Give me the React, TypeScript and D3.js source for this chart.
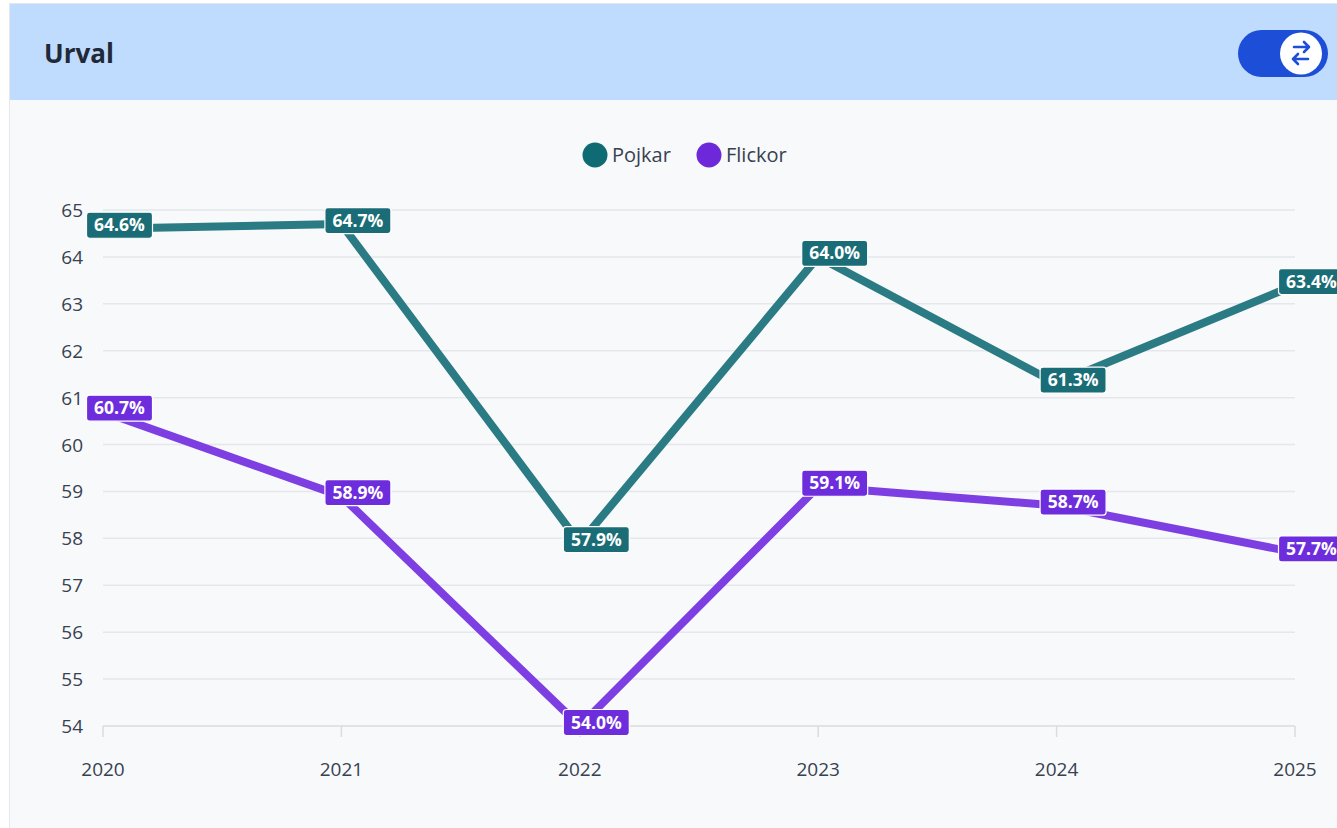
import React from "react";
import * as d3 from "d3";

const years = ["2020", "2021", "2022", "2023", "2024", "2025"];
const pojkar = [64.6, 64.7, 57.9, 64.0, 61.3, 63.4];
const flickor = [60.7, 58.9, 54.0, 59.1, 58.7, 57.7];
const yTicks = [54, 55, 56, 57, 58, 59, 60, 61, 62, 63, 64, 65];
const seriesNames = ["Pojkar", "Flickor"];

const W = 1337, H = 828;
const FONT = "'Open Sans', 'Noto Sans', sans-serif";

export default function App() {
  const x = d3.scalePoint<string>().domain(years).range([103, 1295]);
  const y = d3.scaleLinear().domain([54, 65]).range([726, 210]);
  const line = d3.line<number>().x((_, i) => x(years[i])!).y((d) => y(d));

  const series = [
    { name: seriesNames[0], data: pojkar, line: "#2a7b84", label: "#1a6d76", legend: "#0f6b73" },
    { name: seriesNames[1], data: flickor, line: "#7e3fe2", label: "#6d2ddc", legend: "#6d28d9" },
  ];

  return (
    <svg width={W} height={H} style={{ position: "absolute", left: 0, top: 0, fontFamily: FONT }}>
      <rect x={0} y={0} width={W} height={H} fill="#ffffff" />
      <rect x={9.5} y={3.5} width={W} height={H} fill="#f8f9fb" stroke="#e5e7eb" />
      <rect x={10} y={4} width={W} height={96} fill="#bfdbfe" />
      <text x={44} y={63} fontSize={26} fontWeight={700} fill="#1f2937">Urval</text>
      {/* toggle */}
      <rect x={1238} y={30} width={90} height={47} rx={23.5} fill="#1d4ed8" />
      <circle cx={1301} cy={53.5} r={21} fill="#ffffff" />
      <g stroke="#1d4ed8" strokeWidth={2.6} fill="none" strokeLinecap="round" strokeLinejoin="round">
        <path d="M1294 47 H1309 M1304 42 L1309 47 L1304 52" />
        <path d="M1308 59 H1293 M1298 54 L1293 59 L1298 64" />
      </g>
      {/* legend */}
      {series.map((s, i) => {
        const cx = i === 0 ? 595 : 709;
        return (
          <g key={s.name}>
            <circle cx={cx} cy={155} r={12.5} fill={s.legend} />
            <text x={cx + 17} y={162} fontSize={20} fill="#374151">{s.name}</text>
          </g>
        );
      })}
      {/* grid */}
      {yTicks.map((t) => (
        <g key={t}>
          <line x1={103} x2={1295} y1={y(t)} y2={y(t)} stroke={t === 54 ? "#d9dce1" : "#e5e7eb"} strokeWidth={1.5} />
          <text x={83} y={y(t) + 7} textAnchor="end" fontSize={19} fill="#374151">{t}</text>
        </g>
      ))}
      {years.map((yr) => (
        <g key={yr}>
          <line x1={x(yr)} x2={x(yr)} y1={726} y2={737} stroke="#d9dce1" strokeWidth={1.5} />
          <text x={x(yr)} y={776} textAnchor="middle" fontSize={19} fill="#374151">{yr}</text>
        </g>
      ))}
      {/* lines */}
      {series.map((s) => (
        <path key={s.name} d={line(s.data)!} fill="none" stroke={s.line} strokeWidth={8} strokeLinejoin="round" />
      ))}
      {/* labels */}
      {series.map((s) =>
        s.data.map((v, i) => {
          const cx = x(years[i])! + 16.5;
          const cy = y(v) - 3.5;
          const txt = v.toFixed(1) + "%";
          const w = 66, h = 26;
          return (
            <g key={s.name + i}>
              <rect x={cx - w / 2} y={cy - h / 2} width={w} height={h} rx={3} fill={s.label} stroke="#ffffff" strokeWidth={1.2} />
              <text x={cx} y={cy + 6} textAnchor="middle" fontSize={17.5} fontWeight={700} fill="#ffffff">{txt}</text>
            </g>
          );
        })
      )}
    </svg>
  );
}
